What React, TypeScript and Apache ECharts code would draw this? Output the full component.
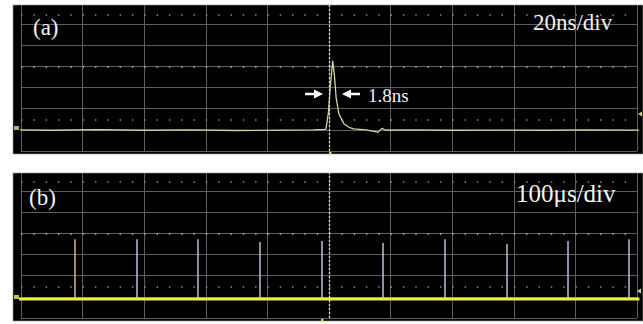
import React, { useEffect, useRef } from "react";
import * as echarts from "echarts";

// Panel (a): single pulse, 20 ns/div, vertical in divisions
const pulseTimeNs = [-1.3, 10, 25, 40, 55, 70, 85, 95, 99.0, 99.8, 100.4, 101.2, 101.8, 102.3, 103.2, 104.9, 106.5, 108, 112, 115.9, 117.2, 118.5, 125, 140, 155, 170, 185, 201];
const pulseLevelDiv = [1.0, 0.98, 1.01, 0.98, 1.0, 0.97, 0.99, 1.0, 1.02, 1.8, 3.0, 4.26, 3.5, 2.55, 1.75, 1.28, 1.12, 1.05, 1.0, 0.89, 1.07, 0.98, 1.0, 0.98, 0.99, 0.98, 1.0, 0.99];

// Panel (b): pulse train, 100 us/div
const trainBaseTimeUs = [-6.5, 1004];
const trainBaseLevelDiv = [0.9, 0.9];
const spikeTimeUs = [87.7, 188.3, 287.3, 388, 488.6, 587.7, 688.3, 789, 888, 987];
const spikeTopDiv = [3.73, 3.73, 3.73, 3.59, 3.64, 3.55, 3.73, 3.5, 3.64, 3.73];

const labelA = "(a)";
const labelB = "(b)";
const scaleA = "20ns/div";
const scaleB = "100μs/div";
const widthLabel = "1.8ns";

const GRID_COLOR = "#5e5e5e";
const DOT_COLOR = "#b8b8b8";
const SERIF = "'Liberation Serif', 'DejaVu Serif', serif";

function graticuleMarks(center: number, top: number, mid: number, low: number) {
  const dots = (v: number, c: string) => ({
    yAxis: v,
    lineStyle: { type: [1.5, 10.82], color: c, width: 1.6, opacity: 1 },
  });
  return {
    silent: true,
    symbol: ["none", "none"],
    label: { show: false },
    emphasis: { disabled: true },
    animation: false,
    data: [
      dots(top, "#8a8a8a"),
      dots(mid, DOT_COLOR),
      dots(low, "#8a8a8a"),
      { xAxis: center, lineStyle: { type: [2, 2], color: "#d8d8d8", width: 1.3, opacity: 1 } },
    ],
  };
}

export default function App() {
  const ref = useRef<HTMLDivElement>(null);
  useEffect(() => {
    if (!ref.current) return;
    const chart = echarts.init(ref.current, undefined, { renderer: "svg" });
    const axisCommon = {
      axisLine: { show: false },
      axisTick: { show: false },
      axisLabel: { show: false },
    };
    const baseB = trainBaseLevelDiv[0];
    const option: any = {
      animation: false,
      backgroundColor: "#ffffff",
      grid: [
        { left: 21, width: 616, top: 5, height: 146 },
        { left: 21, width: 616, top: 173, height: 145 },
      ],
      xAxis: [
        {
          type: "value", gridIndex: 0, min: 0, max: 200, interval: 20, ...axisCommon,
          splitLine: { show: true, lineStyle: { color: GRID_COLOR, width: 1 } },
        },
        {
          type: "value", gridIndex: 1, min: 0, max: 1000, interval: 100, ...axisCommon,
          splitLine: { show: true, lineStyle: { color: GRID_COLOR, width: 1 } },
        },
      ],
      yAxis: [
        {
          type: "value", gridIndex: 0, min: 0, max: 6.9, interval: 1, ...axisCommon,
          splitLine: { show: true, showMaxLine: false, lineStyle: { color: GRID_COLOR, width: 1 } },
        },
        {
          type: "value", gridIndex: 1, min: 0, max: 6.86, interval: 1, ...axisCommon,
          splitLine: { show: true, showMaxLine: false, lineStyle: { color: GRID_COLOR, width: 1 } },
        },
      ],
      graphic: [
        { type: "rect", z: -10, shape: { x: 13, y: 5, width: 630, height: 149 }, style: { fill: "#000000", stroke: "#9a9a9a", lineWidth: 0.6 } },
        { type: "rect", z: -10, shape: { x: 13, y: 173, width: 630, height: 148 }, style: { fill: "#000000", stroke: "#9a9a9a", lineWidth: 0.6 } },
        { type: "text", z: 100, x: 33, y: 27, style: { text: labelA, fill: "#f2f2f2", font: `23px ${SERIF}`, verticalAlign: "middle" } },
        { type: "text", z: 100, x: 29, y: 197, style: { text: labelB, fill: "#f2f2f2", font: `23px ${SERIF}`, verticalAlign: "middle" } },
        { type: "text", z: 100, x: 533, y: 22, style: { text: scaleA, fill: "#f2f2f2", font: `23px ${SERIF}`, verticalAlign: "middle" } },
        { type: "text", z: 100, x: 516, y: 193, style: { text: scaleB, fill: "#f2f2f2", font: `25px ${SERIF}`, verticalAlign: "middle" } },
        { type: "text", z: 100, x: 368, y: 95, style: { text: widthLabel, fill: "#f2f2f2", font: `19px ${SERIF}`, verticalAlign: "middle" } },
        { type: "line", z: 100, shape: { x1: 305, y1: 94, x2: 316, y2: 94 }, style: { stroke: "#ffffff", lineWidth: 2.5 } },
        { type: "polygon", z: 100, shape: { points: [[323, 94], [314, 89.5], [314, 98.5]] }, style: { fill: "#ffffff" } },
        { type: "line", z: 100, shape: { x1: 349, y1: 94, x2: 360, y2: 94 }, style: { stroke: "#ffffff", lineWidth: 2.5 } },
        { type: "polygon", z: 100, shape: { points: [[342, 94], [351, 89.5], [351, 98.5]] }, style: { fill: "#ffffff" } },
        // channel / trigger markers
        { type: "rect", z: 100, shape: { x: 14, y: 126, width: 5, height: 4 }, style: { fill: "#b8b060" } },
        { type: "rect", z: 100, shape: { x: 14, y: 295, width: 5, height: 4 }, style: { fill: "#c8c040" } },
        { type: "polygon", z: 100, shape: { points: [[638, 114], [642, 111.5], [642, 116.5]] }, style: { fill: "#d8d070" } },
        { type: "polygon", z: 100, shape: { points: [[637, 291], [641, 288.5], [641, 293.5]] }, style: { fill: "#d8d070" } },
        { type: "rect", z: 100, shape: { x: 329, y: 152, width: 2.5, height: 2.5 }, style: { fill: "#e0c840" } },
        { type: "rect", z: 100, shape: { x: 321, y: 319, width: 2.5, height: 2.5 }, style: { fill: "#e0c840" } },
      ],
      series: [
        {
          type: "line",
          xAxisIndex: 0,
          yAxisIndex: 0,
          data: pulseTimeNs.map((t, i) => [t, pulseLevelDiv[i]]),
          showSymbol: false,
          clip: false,
          z: 5,
          lineStyle: { color: "#d4d4a4", width: 1.3 },
          markLine: graticuleMarks(100, 6.45, 4, 1.47),
        },
        {
          type: "custom",
          xAxisIndex: 1,
          yAxisIndex: 1,
          z: 3,
          silent: true,
          data: spikeTimeUs.map((t, i) => [t, spikeTopDiv[i]]),
          renderItem: (params: any, api: any) => {
            const p0 = api.coord([api.value(0), baseB]);
            const p1 = api.coord([api.value(0), api.value(1)]);
            return {
              type: "line",
              shape: { x1: p0[0], y1: p0[1], x2: p1[0], y2: p1[1] },
              style: { stroke: params.dataIndex === 0 ? "#bfae8c" : "#aab6ca", lineWidth: 1.6 },
            };
          },
          markLine: graticuleMarks(500, 6.45, 4, 1.47),
        },
        {
          type: "line",
          xAxisIndex: 1,
          yAxisIndex: 1,
          data: trainBaseTimeUs.map((t, i) => [t, trainBaseLevelDiv[i]]),
          showSymbol: false,
          clip: false,
          z: 6,
          lineStyle: { color: "#eeee3a", width: 3.2 },
        },
      ],
    };
    chart.setOption(option);
    return () => chart.dispose();
  }, []);
  return (
    <div
      ref={ref}
      style={{ position: "fixed", left: 0, top: 0, width: 643, height: 324, background: "#fff" }}
    />
  );
}
